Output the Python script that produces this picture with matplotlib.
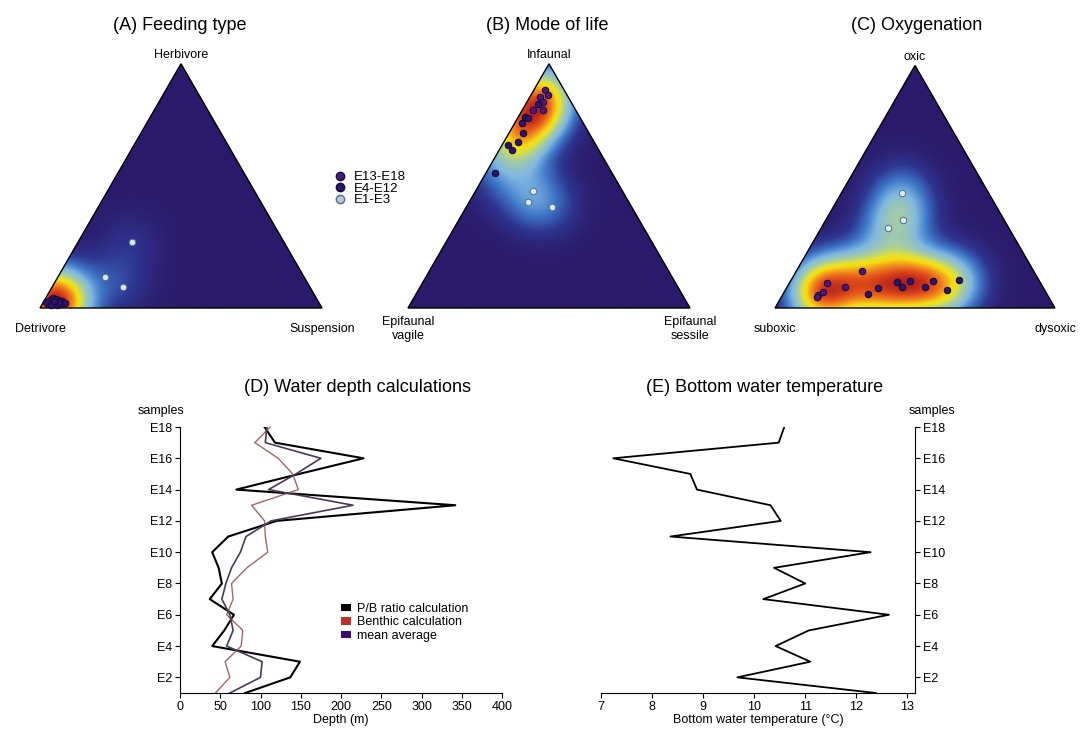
import numpy as np
import matplotlib.pyplot as plt
from matplotlib.colors import LinearSegmentedColormap
from matplotlib.patches import Polygon, Patch
from matplotlib.lines import Line2D

plt.rcParams['font.family'] = ['Liberation Sans', 'DejaVu Sans']

# ---- data ----
samples = list(range(1, 19))
sample_ticks = list(range(2, 19, 2))
sample_labels = ['E%d' % s for s in sample_ticks]

# water depth (m), E1..E18
pb_depth = [81, 137, 149, 40, 55, 67, 37, 52, 48, 40, 60, 120, 342, 70, 148, 228, 118, 105]
benthic_depth = [44, 62, 56, 76, 78, 58, 66, 64, 83, 109, 106, 105, 89, 147, 140, 122, 93, 112]
mean_depth = [62, 100, 102, 58, 66, 62, 52, 57, 64, 75, 82, 113, 215, 110, 144, 175, 106, 108]

# bottom water temperature (degC), E1..E18
bottom_temp = [12.38, 9.67, 11.1, 10.42, 11.07, 12.64, 10.18, 11.0, 10.39, 12.28,
               8.36, 10.52, 10.32, 8.88, 8.75, 7.24, 10.48, 10.59]

# ternary compositions in % : (top, bottom-left, bottom-right)
# (A) Herbivore, Detrivore, Suspension
feed_e13_18 = [(1.6, 96.4, 2.0), (2.5, 94.5, 3.0), (2.0, 93.7, 4.3),
               (3.3, 92.0, 4.7), (3.3, 94.8, 1.9), (1.6, 92.1, 6.3)]
feed_e4_12 = [(4.1, 93.3, 2.6), (2.9, 90.7, 6.4), (2.5, 96.6, 0.9),
              (1.2, 93.4, 5.4), (2.0, 90.1, 7.9), (1.2, 95.5, 3.3),
              (3.7, 92.5, 3.8), (2.5, 92.0, 5.5), (2.9, 93.6, 3.5)]
feed_e1_3 = [(27.1, 53.9, 19.0), (12.8, 70.6, 16.6), (8.5, 66.4, 25.1)]

# (B) Infaunal, Epifaunal vagile, Epifaunal sessile
life_e13_18 = [(89.3, 6.8, 3.9), (86.5, 9.9, 3.6), (84.5, 9.9, 5.6),
               (81.1, 15.1, 3.8), (81.1, 11.6, 7.3), (87.2, 6.8, 6.0)]
life_e4_12 = [(78.3, 19.4, 2.3), (75.6, 21.9, 2.5), (71.5, 23.5, 5.0),
              (68.1, 27.0, 4.9), (66.7, 31.2, 2.1), (64.7, 30.8, 4.5),
              (55.3, 41.5, 3.2), (83.5, 12.2, 4.3), (77.8, 18.6, 3.6)]
life_e1_3 = [(48.0, 31.8, 20.2), (43.5, 35.8, 20.7), (41.5, 28.3, 30.2)]

# (C) oxic, suboxic, dysoxic
oxy_e13_18 = [(15.4, 61.4, 23.2), (5.4, 81.8, 12.8), (6.7, 79.4, 13.9),
              (10.2, 76.4, 13.4), (8.5, 70.8, 20.7), (4.7, 82.8, 12.5)]
oxy_e4_12 = [(5.8, 63.8, 30.4), (8.1, 59.1, 32.8), (10.9, 51.1, 38.0),
             (8.8, 50.3, 40.9), (11.1, 46.2, 42.7), (8.8, 42.0, 49.2),
             (11.1, 37.9, 51.0), (7.4, 34.8, 57.8), (11.6, 28.4, 60.0)]
oxy_e1_3 = [(47.6, 31.0, 21.4), (36.3, 36.0, 27.7), (32.9, 43.1, 24.0)]

H = np.sqrt(3) / 2
cmap = LinearSegmentedColormap.from_list('dens', [
    (0.0, '#2b1a6b'), (0.1, '#2e3590'), (0.22, '#3f78c8'), (0.34, '#80b8e2'),
    (0.47, '#a6cca4'), (0.58, '#e2e232'), (0.65, '#f8dc10'), (0.77, '#f08c20'),
    (0.89, '#e04a18'), (1.0, '#b02020')])


def tern_xy(comp):
    c = np.asarray(comp, float) / 100
    return c[:, 2] + c[:, 0] / 2, c[:, 0] * H


def ternary(ax, groups, labels, bw=0.08):
    gx, gy = np.meshgrid(np.linspace(0, 1, 400), np.linspace(0, H, 347))
    dens = np.zeros_like(gx)
    for g in groups:
        xs, ys = tern_xy(g)
        for px, py in zip(xs, ys):
            dens += np.exp(-((gx - px) ** 2 + (gy - py) ** 2) / (2 * bw ** 2))
    dens = dens / dens.max()
    im = ax.imshow(dens, extent=(0, 1, 0, H), origin='lower', cmap=cmap,
                   vmin=0, vmax=1, interpolation='bilinear', aspect='auto')
    tri = Polygon([(0, 0), (1, 0), (0.5, H)], closed=True, fc='none', ec='black', lw=1, zorder=3)
    ax.add_patch(tri)
    im.set_clip_path(tri)
    styles = [dict(fc='#4a1a7a', ec='#1a0840'), dict(fc='#2c1470', ec='#140830'),
              dict(fc='#dde8ee', ec='#4a7090')]
    for g, st in zip(groups, styles):
        xs, ys = tern_xy(g)
        ax.scatter(xs, ys, s=22, lw=0.7, zorder=4, clip_on=False, **st)
    ax.set_xlim(-0.05, 1.05)
    ax.set_ylim(-0.05, H + 0.05)
    ax.axis('off')
    top, left, right = labels
    kw = dict(textcoords='offset points', ha='center', va='center', fontsize=9)
    ax.annotate(top, (0.5, H), xytext=(0, 6), **kw)
    ax.annotate(left, (0, 0), xytext=(0, -15), **kw)
    ax.annotate(right, (1, 0), xytext=(0, -15), **kw)


fig = plt.figure(figsize=(10.8, 7.33), dpi=100)
FW, FH = 1080, 733


def tri_axes(lx, by, w):
    return fig.add_axes([(lx - 0.05 * w) / FW, 1 - (by + 0.05 * w) / FH,
                         1.1 * w / FW, (H + 0.1) * w / FH])


axA = tri_axes(40, 308, 282)
axB = tri_axes(408, 308, 282)
axC = tri_axes(775, 308, 280)
ternary(axA, [feed_e13_18, feed_e4_12, feed_e1_3], ('Herbivore', 'Detrivore', 'Suspension'))
ternary(axB, [life_e13_18, life_e4_12, life_e1_3], ('Infaunal', 'Epifaunal\nvagile', 'Epifaunal\nsessile'))
ternary(axC, [oxy_e13_18, oxy_e4_12, oxy_e1_3], ('oxic', 'suboxic', 'dysoxic'))

fig.text(180 / FW, 1 - 25 / FH, '(A) Feeding type', ha='center', va='center', fontsize=13)
fig.text(547 / FW, 1 - 25 / FH, '(B) Mode of life', ha='center', va='center', fontsize=13)
fig.text(917 / FW, 1 - 25 / FH, '(C) Oxygenation', ha='center', va='center', fontsize=13)

leg_handles = [
    Line2D([], [], ls='none', marker='o', ms=6, mfc='#4a1a7a', mec='#1a0840'),
    Line2D([], [], ls='none', marker='o', ms=6, mfc='#2c1470', mec='#140830'),
    Line2D([], [], ls='none', marker='o', ms=6, mfc='#b8c8d4', mec='#4a7090'),
]
fig.legend(leg_handles, ['E13-E18', 'E4-E12', 'E1-E3'], loc='upper left',
           bbox_to_anchor=(333 / FW, 1 - 171 / FH), frameon=False, fontsize=9.5,
           handlelength=1, handletextpad=0.6, labelspacing=-0.05, borderpad=0, borderaxespad=0)

# ---- (D) water depth ----
axD = fig.add_axes([180 / FW, 1 - 693 / FH, 322 / FW, 266 / FH])
axD.plot(pb_depth, samples, color='black', lw=1.5)
axD.plot(benthic_depth, samples, color='#a06868', lw=1.0)
axD.plot(mean_depth, samples, color='#4a3a55', lw=1.2)
axD.set_xlim(0, 400)
axD.set_ylim(1, 18)
axD.set_xticks(range(0, 401, 50))
axD.set_yticks(sample_ticks)
axD.set_yticklabels(sample_labels)
axD.set_xlabel('Depth (m)', fontsize=9, labelpad=1)
axD.spines[['top', 'right']].set_visible(False)
axD.tick_params(labelsize=9, length=3.5, width=0.8, pad=2)
axD.legend([Patch(fc='black'), Patch(fc='#c0302a'), Patch(fc='#3a0a6e')],
           ['P/B ratio calculation', 'Benthic calculation', 'mean average'],
           loc='upper left', bbox_to_anchor=(0.5, 0.34), frameon=False, fontsize=9,
           handlelength=0.8, handleheight=0.5, handletextpad=0.5, labelspacing=0.15,
           borderpad=0, borderaxespad=0)
fig.text(161 / FW, 1 - 411 / FH, 'samples', ha='center', va='center', fontsize=9)
fig.text(357 / FW, 1 - 388 / FH, '(D) Water depth calculations', ha='center', va='center', fontsize=13)

# ---- (E) bottom water temperature ----
axE = fig.add_axes([601 / FW, 1 - 693 / FH, 314 / FW, 266 / FH])
axE.plot(bottom_temp, samples, color='black', lw=1.3)
axE.set_xlim(7, 13.15)
axE.set_ylim(1, 18)
axE.set_xticks(range(7, 14))
axE.set_yticks(sample_ticks)
axE.set_yticklabels(sample_labels)
axE.yaxis.tick_right()
axE.spines[['top', 'left']].set_visible(False)
axE.set_xlabel('Bottom water temperature (°C)', fontsize=9, labelpad=1)
axE.tick_params(labelsize=9, length=3.5, width=0.8, pad=2)
fig.text(932 / FW, 1 - 411 / FH, 'samples', ha='center', va='center', fontsize=9)
fig.text(765 / FW, 1 - 388 / FH, '(E) Bottom water temperature', ha='center', va='center', fontsize=13)

fig.savefig('out.png', dpi=100)
